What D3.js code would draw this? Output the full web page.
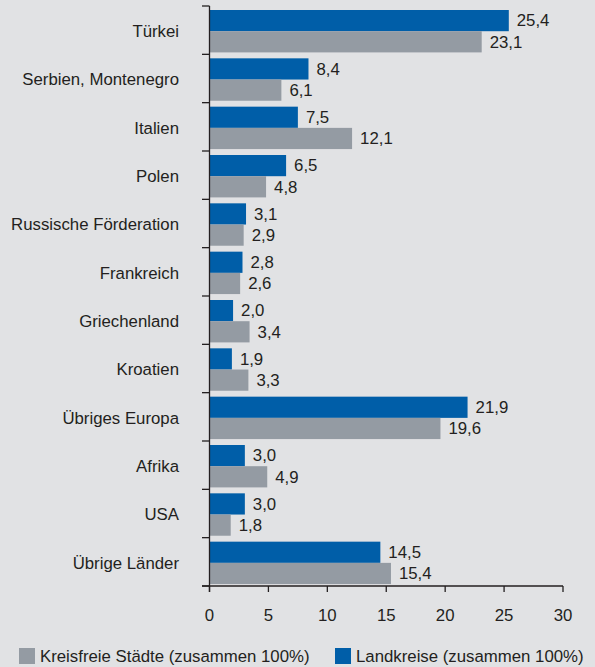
<!DOCTYPE html>
<html>
<head>
<meta charset="utf-8">
<style>
  body { margin: 0; background: #e1e2e4; }
  svg { display: block; font-family: "Liberation Sans", Arial, sans-serif; }
</style>
</head>
<body>
<div id="chart"></div>
<script src="https://cdnjs.cloudflare.com/ajax/libs/d3/7.8.5/d3.min.js"></script>
<script>
var categories = ['Türkei', 'Serbien, Montenegro', 'Italien', 'Polen', 'Russische Förderation',
  'Frankreich', 'Griechenland', 'Kroatien', 'Übriges Europa', 'Afrika', 'USA', 'Übrige Länder'];
var landkreise = [25.4, 8.4, 7.5, 6.5, 3.1, 2.8, 2.0, 1.9, 21.9, 3.0, 3.0, 14.5];
var kreisfreie = [23.1, 6.1, 12.1, 4.8, 2.9, 2.6, 3.4, 3.3, 19.6, 4.9, 1.8, 15.4];
var xTicks = [0, 5, 10, 15, 20, 25, 30];
var seriesNames = ['Kreisfreie Städte (zusammen 100%)', 'Landkreise (zusammen 100%)'];

var width = 595, height = 667;
var blue = '#005ea8', gray = '#949ba3', textColor = '#231f20';
var fs = 16.8;

var svg = d3.select('#chart').append('svg')
  .attr('width', width)
  .attr('height', height);

svg.append('rect')
  .attr('width', width)
  .attr('height', height)
  .attr('fill', '#e1e2e4');

var x = d3.scaleLinear().domain([0, 30]).range([209.5, 563]);
var y = d3.scaleBand().domain(categories).range([6, 586]);

var fmt = function(v) { return d3.format('.1f')(v).replace('.', ','); };

var groups = svg.selectAll('g.cat')
  .data(categories).enter().append('g')
  .attr('class', 'cat')
  .attr('transform', function(d) { return 'translate(0,' + y(d) + ')'; });

var barH = 21.2;
var top0 = 4;

groups.append('rect')
  .attr('x', x(0))
  .attr('y', top0)
  .attr('width', function(d, i) { return x(landkreise[i]) - x(0); })
  .attr('height', barH)
  .attr('fill', blue);

groups.append('rect')
  .attr('x', x(0))
  .attr('y', top0 + barH)
  .attr('width', function(d, i) { return x(kreisfreie[i]) - x(0); })
  .attr('height', barH)
  .attr('fill', gray);

groups.append('text')
  .attr('x', function(d, i) { return x(landkreise[i]) + 8; })
  .attr('y', top0 + barH / 2)
  .attr('dy', '0.35em')
  .attr('font-size', fs)
  .attr('fill', textColor)
  .text(function(d, i) { return fmt(landkreise[i]); });

groups.append('text')
  .attr('x', function(d, i) { return x(kreisfreie[i]) + 8; })
  .attr('y', top0 + barH * 1.5)
  .attr('dy', '0.35em')
  .attr('font-size', fs)
  .attr('fill', textColor)
  .text(function(d, i) { return fmt(kreisfreie[i]); });

// category labels
groups.append('text')
  .attr('x', 179)
  .attr('y', top0 + barH)
  .attr('dy', '0.35em')
  .attr('text-anchor', 'end')
  .attr('font-size', fs)
  .attr('fill', textColor)
  .text(function(d) { return d; });

// y axis
var axisColor = '#231f20';
svg.append('line')
  .attr('x1', x(0)).attr('x2', x(0))
  .attr('y1', 6).attr('y2', 592)
  .attr('stroke', axisColor).attr('stroke-width', 1.3);

var yTickPos = categories.map(function(d) { return y(d); }).concat([586]);
svg.selectAll('line.ytick')
  .data(yTickPos).enter().append('line')
  .attr('class', 'ytick')
  .attr('x1', 202).attr('x2', x(0))
  .attr('y1', function(d) { return d; })
  .attr('y2', function(d) { return d; })
  .attr('stroke', axisColor).attr('stroke-width', 1.3);

// x axis
svg.append('line')
  .attr('x1', 202).attr('x2', x(30))
  .attr('y1', 586).attr('y2', 586)
  .attr('stroke', axisColor).attr('stroke-width', 1.3);

svg.selectAll('line.xtick')
  .data(xTicks).enter().append('line')
  .attr('class', 'xtick')
  .attr('x1', function(d) { return x(d); })
  .attr('x2', function(d) { return x(d); })
  .attr('y1', 586).attr('y2', 592)
  .attr('stroke', axisColor).attr('stroke-width', 1.3);

svg.selectAll('text.xlabel')
  .data(xTicks).enter().append('text')
  .attr('class', 'xlabel')
  .attr('x', function(d) { return x(d); })
  .attr('y', 615)
  .attr('dy', '0.35em')
  .attr('text-anchor', 'middle')
  .attr('font-size', fs)
  .attr('fill', textColor)
  .text(function(d) { return d; });

// legend
var legend = [
  { x: 19, color: gray, name: seriesNames[0] },
  { x: 335, color: blue, name: seriesNames[1] }
];
var lg = svg.selectAll('g.legend')
  .data(legend).enter().append('g')
  .attr('class', 'legend')
  .attr('transform', function(d) { return 'translate(' + d.x + ',648)'; });

lg.append('rect')
  .attr('width', 16).attr('height', 16)
  .attr('fill', function(d) { return d.color; });

lg.append('text')
  .attr('x', 21)
  .attr('y', 8)
  .attr('dy', '0.35em')
  .attr('font-size', fs)
  .attr('fill', textColor)
  .text(function(d) { return d.name; });
</script>
</body>
</html>
